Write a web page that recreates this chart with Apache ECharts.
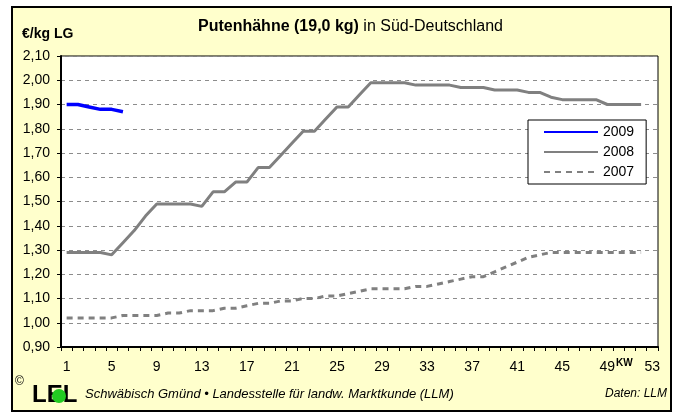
<!DOCTYPE html>
<html>
<head>
<meta charset="utf-8">
<script src="https://cdn.jsdelivr.net/npm/echarts@6/dist/echarts.min.js"></script>
<style>
  html, body { margin: 0; padding: 0; background: #fff; }
  #wrap { position: relative; width: 678px; height: 413px; }
  #frame { position: absolute; left: 11px; top: 6px; width: 657px; height: 402px; border: 2px solid #000; background: #ffffcc; }
  #chart { position: absolute; left: 0; top: 0; width: 678px; height: 413px; }
</style>
</head>
<body>
<div id="wrap"><div id="frame"></div><div id="chart"></div></div>
<script>
// Kalenderwochen
const weeks = ['1','2','3','4','5','6','7','8','9','10','11','12','13','14','15','16','17','18','19','20',
  '21','22','23','24','25','26','27','28','29','30','31','32','33','34','35','36','37','38','39','40',
  '41','42','43','44','45','46','47','48','49','50','51','52','53'];

// Preise in EUR/kg LG
const prices2009 = [1.90, 1.90, 1.89, 1.88, 1.88, 1.87];
const prices2008 = [1.29, 1.29, 1.29, 1.29, 1.28, 1.33, 1.38, 1.44, 1.49, 1.49,
  1.49, 1.49, 1.48, 1.54, 1.54, 1.58, 1.58, 1.64, 1.64, 1.69,
  1.74, 1.79, 1.79, 1.84, 1.89, 1.89, 1.94, 1.99, 1.99, 1.99,
  1.99, 1.98, 1.98, 1.98, 1.98, 1.97, 1.97, 1.97, 1.96, 1.96,
  1.96, 1.95, 1.95, 1.93, 1.92, 1.92, 1.92, 1.92, 1.90, 1.90,
  1.90, 1.90];
const prices2007 = [1.02, 1.02, 1.02, 1.02, 1.02, 1.03, 1.03, 1.03, 1.03, 1.04,
  1.04, 1.05, 1.05, 1.05, 1.06, 1.06, 1.07, 1.08, 1.08, 1.09,
  1.09, 1.10, 1.10, 1.11, 1.11, 1.12, 1.13, 1.14, 1.14, 1.14,
  1.14, 1.15, 1.15, 1.16, 1.17, 1.18, 1.19, 1.19, 1.21, 1.23,
  1.25, 1.27, 1.28, 1.29, 1.29, 1.29, 1.29, 1.29, 1.29, 1.29,
  1.29, 1.29];

const font = 'Liberation Sans, Arial, sans-serif';
const chart = echarts.init(document.getElementById('chart'));

const option = {
  backgroundColor: 'transparent',
  animation: false,
  textStyle: { fontFamily: font },
  grid: {
    left: 61, right: 20, top: 56, bottom: 66,
    show: true, backgroundColor: '#fff', borderColor: '#000', borderWidth: 1
  },
  legend: {
    orient: 'vertical',
    left: 528, top: 120,
    padding: [5, 12, 5, 15],
    itemGap: 6, itemWidth: 54, itemHeight: 14,
    backgroundColor: '#fff', borderColor: '#000', borderWidth: 1,
    itemStyle: { opacity: 0 },
    textStyle: { fontSize: 14, color: '#000', fontFamily: font },
    data: ['2009', '2008', '2007']
  },
  xAxis: {
    type: 'category',
    data: weeks,
    boundaryGap: true,
    axisLine: { lineStyle: { color: '#000', width: 2 } },
    axisTick: { show: true, interval: 0, length: 4, lineStyle: { color: '#000' } },
    axisLabel: { interval: 3, color: '#000', fontSize: 14, margin: 13 },
    splitLine: { show: false }
  },
  yAxis: {
    type: 'value',
    min: 0.9, max: 2.1, interval: 0.1,
    axisLine: { show: true, lineStyle: { color: '#000', width: 2 } },
    axisTick: { show: true, length: 4, lineStyle: { color: '#000' } },
    axisLabel: {
      color: '#000', fontSize: 14, margin: 11,
      formatter: v => v.toFixed(2).replace('.', ',')
    },
    splitLine: { lineStyle: { color: '#8c8c8c', type: [4, 4], width: 1 } }
  },
  series: [
    {
      name: '2009', type: 'line', data: prices2009, symbol: 'none',
      lineStyle: { color: '#0000ff', width: 3.5 }, itemStyle: { color: '#0000ff' }, z: 4
    },
    {
      name: '2008', type: 'line', data: prices2008, symbol: 'none',
      lineStyle: { color: '#808080', width: 3 }, itemStyle: { color: '#808080' }, z: 3
    },
    {
      name: '2007', type: 'line', data: prices2007, symbol: 'none',
      lineStyle: { color: '#808080', width: 3, type: [6, 5] }, itemStyle: { color: '#808080' }, z: 2
    }
  ],
  graphic: [
    {
      type: 'text', x: 198, y: 27,
      style: {
        text: '{b|Putenhähne (19,0 kg)}{n| in Süd-Deutschland}',
        verticalAlign: 'middle',
        rich: {
          b: { fontFamily: font, fontSize: 16, fontWeight: 'bold', fill: '#000' },
          n: { fontFamily: font, fontSize: 16, fill: '#000' }
        }
      }
    },
    {
      type: 'text', x: 22, y: 34,
      style: { text: '€/kg LG', fontFamily: font, fontSize: 14, fontWeight: 'bold', fill: '#000', verticalAlign: 'middle' }
    },
    {
      type: 'text', x: 616, y: 363,
      style: { text: 'KW', fontFamily: font, fontSize: 10, fontWeight: 'bold', fill: '#000', verticalAlign: 'middle' }
    },
    {
      type: 'text', x: 15, y: 382,
      style: { text: '©', fontFamily: font, fontSize: 12, fill: '#000', verticalAlign: 'middle' }
    },
    {
      type: 'text', x: 32, y: 395,
      style: { text: 'LEL', fontFamily: font, fontSize: 24, fontWeight: 'bold', fill: '#000', verticalAlign: 'middle' }
    },
    {
      type: 'circle', shape: { cx: 59, cy: 396, r: 7 },
      style: { fill: '#22cc22' }
    },
    {
      type: 'text', x: 85, y: 394,
      style: {
        text: 'Schwäbisch Gmünd • Landesstelle für landw. Marktkunde (LLM)',
        fontFamily: font, fontSize: 13, fontStyle: 'italic', fill: '#000', verticalAlign: 'middle'
      }
    },
    {
      type: 'text', x: 667, y: 394,
      style: {
        text: 'Daten: LLM', fontFamily: font, fontSize: 12, fontStyle: 'italic',
        fill: '#000', align: 'right', verticalAlign: 'middle'
      }
    }
  ]
};

chart.setOption(option);
</script>
</body>
</html>
